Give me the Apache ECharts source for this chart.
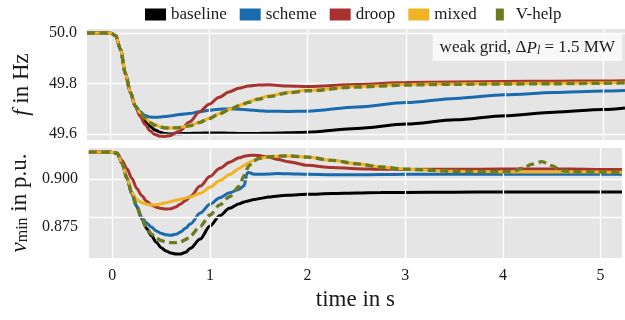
<!DOCTYPE html>
<html>
<head>
<meta charset="utf-8">
<script src="https://cdn.jsdelivr.net/npm/echarts@6/dist/echarts.min.js"></script>
<style>
html,body{margin:0;padding:0;background:#fff;}
#chart{width:625px;height:320px;}
</style>
</head>
<body>
<div id="chart"></div>
<script>
// ---- data ----
const seriesNames = ['baseline', 'scheme', 'droop', 'mixed', 'V-help'];

// frequency panel
const tF = [-0.24, 0, 0.05, 0.1, 0.15, 0.2, 0.25, 0.3, 0.35, 0.4, 0.45, 0.5, 0.55, 0.6, 0.7, 0.8, 0.9, 1.0, 1.1, 1.2, 1.3, 1.4, 1.5, 1.6, 1.8, 2.0, 2.5, 3.0, 3.5, 4.0, 4.5, 5.0, 5.22];
const fBaseline = [50.0, 50.0, 49.99, 49.935, 49.84, 49.765, 49.71, 49.676, 49.65, 49.63, 49.616, 49.607, 49.602, 49.600, 49.601, 49.602, 49.603, 49.604, 49.604, 49.603, 49.602, 49.602, 49.602, 49.603, 49.605, 49.607, 49.622, 49.639, 49.656, 49.672, 49.686, 49.697, 49.703];
const fScheme = [50.0, 50.0, 49.99, 49.935, 49.84, 49.765, 49.712, 49.688, 49.673, 49.667, 49.666, 49.667, 49.669, 49.671, 49.677, 49.681, 49.688, 49.694, 49.698, 49.699, 49.698, 49.695, 49.692, 49.690, 49.689, 49.690, 49.707, 49.725, 49.741, 49.755, 49.764, 49.770, 49.772];
const fDroop = [50.0, 50.0, 49.99, 49.935, 49.84, 49.765, 49.708, 49.670, 49.638, 49.612, 49.598, 49.591, 49.590, 49.593, 49.612, 49.647, 49.687, 49.718, 49.745, 49.766, 49.781, 49.790, 49.794, 49.795, 49.790, 49.788, 49.796, 49.804, 49.806, 49.808, 49.809, 49.810, 49.811];
const fMixed = [50.0, 50.0, 49.99, 49.935, 49.84, 49.765, 49.71, 49.683, 49.663, 49.646, 49.636, 49.629, 49.625, 49.624, 49.626, 49.633, 49.646, 49.662, 49.680, 49.697, 49.713, 49.727, 49.740, 49.750, 49.765, 49.773, 49.788, 49.796, 49.799, 49.800, 49.801, 49.803, 49.805];
const fVhelp = [50.0, 50.0, 49.99, 49.935, 49.84, 49.765, 49.71, 49.683, 49.662, 49.645, 49.635, 49.628, 49.624, 49.623, 49.625, 49.632, 49.645, 49.661, 49.679, 49.695, 49.711, 49.725, 49.738, 49.748, 49.763, 49.771, 49.786, 49.794, 49.797, 49.798, 49.799, 49.801, 49.803];

// voltage panel
const tV = [-0.24, 0, 0.05, 0.1, 0.15, 0.2, 0.25, 0.3, 0.35, 0.4, 0.45, 0.5, 0.55, 0.6, 0.65, 0.7, 0.75, 0.8, 0.9, 1.0, 1.1, 1.2, 1.3, 1.35, 1.38, 1.4, 1.45, 1.5, 1.6, 1.7, 1.8, 2.0, 2.25, 2.5, 2.75, 3.0, 3.5, 4.0, 4.1, 4.2, 4.3, 4.4, 4.5, 4.6, 4.7, 5.0, 5.22];
const vBaseline = [0.9143, 0.9143, 0.9136, 0.9084, 0.9005, 0.8926, 0.8856, 0.8794, 0.8741, 0.8703, 0.8668, 0.8639, 0.8622, 0.8611, 0.8606, 0.8606, 0.8615, 0.8636, 0.8685, 0.8754, 0.8808, 0.8847, 0.8871, 0.8880, 0.8884, 0.8887, 0.8893, 0.8898, 0.8906, 0.8912, 0.8916, 0.8921, 0.8925, 0.8928, 0.8930, 0.8931, 0.8932, 0.8933, 0.8933, 0.8933, 0.8933, 0.8933, 0.8933, 0.8933, 0.8933, 0.8933, 0.8933];
const vScheme = [0.9143, 0.9143, 0.9136, 0.9084, 0.9005, 0.8926, 0.8858, 0.8800, 0.8770, 0.8748, 0.8728, 0.8715, 0.8707, 0.8705, 0.8710, 0.8722, 0.8742, 0.8765, 0.8822, 0.8868, 0.8903, 0.8929, 0.8948, 0.8966, 0.9033, 0.9036, 0.9027, 0.9026, 0.9028, 0.9030, 0.9029, 0.9026, 0.9024, 0.9024, 0.9025, 0.9026, 0.9026, 0.9026, 0.9026, 0.9026, 0.9026, 0.9026, 0.9026, 0.9026, 0.9026, 0.9026, 0.9026];
const vDroop = [0.9143, 0.9143, 0.9139, 0.9098, 0.9055, 0.9005, 0.8952, 0.8915, 0.8884, 0.8865, 0.8853, 0.8846, 0.8843, 0.8845, 0.8854, 0.8870, 0.8888, 0.8910, 0.8964, 0.9015, 0.9058, 0.9090, 0.9113, 0.9121, 0.9124, 0.9126, 0.9127, 0.9125, 0.9116, 0.9104, 0.9093, 0.9074, 0.9062, 0.9056, 0.9053, 0.9052, 0.9053, 0.9054, 0.9054, 0.9054, 0.9054, 0.9054, 0.9054, 0.9054, 0.9054, 0.9052, 0.9051];
const vMixed = [0.9143, 0.9143, 0.9136, 0.9084, 0.9005, 0.8930, 0.8893, 0.8877, 0.8868, 0.8864, 0.8866, 0.8871, 0.8876, 0.8883, 0.8889, 0.8895, 0.8901, 0.8908, 0.8926, 0.8958, 0.8993, 0.9025, 0.9057, 0.9073, 0.9082, 0.9088, 0.9101, 0.9110, 0.9118, 0.9122, 0.9123, 0.9117, 0.9100, 0.9082, 0.9065, 0.9053, 0.9042, 0.9039, 0.9039, 0.9039, 0.9039, 0.9039, 0.9039, 0.9039, 0.9039, 0.9038, 0.9037];
const vVhelp = [0.9143, 0.9143, 0.9136, 0.9084, 0.9005, 0.8926, 0.8856, 0.8795, 0.8745, 0.8712, 0.8690, 0.8677, 0.8670, 0.8666, 0.8666, 0.8670, 0.8682, 0.8703, 0.8752, 0.8812, 0.8865, 0.8908, 0.8962, 0.9020, 0.9055, 0.9072, 0.9098, 0.9110, 0.9118, 0.9122, 0.9123, 0.9117, 0.9100, 0.9082, 0.9065, 0.9053, 0.9042, 0.9040, 0.9041, 0.9058, 0.9080, 0.9093, 0.9072, 0.9046, 0.9040, 0.9038, 0.9037];

// tick labels / grid lines
const tTicks = [0, 1, 2, 3, 4, 5];
const fTicks = [49.6, 49.8, 50.0];
const vTicks = [0.875, 0.900];

// ---- styling ----
const FONT = 'Liberation Serif';
const colors = ['#000000', '#1a6aae', '#a8322d', '#f0b323', '#6e7b1c'];
const TXT = '#1a1a1a';

const zip = (t, y) => t.map((x, i) => [x, y[i]]);
const near = (v, list) => list.some(k => Math.abs(v - k) < 1e-7);

const fData = [fBaseline, fScheme, fDroop, fMixed, fVhelp];
const vData = [vBaseline, vScheme, vDroop, vMixed, vVhelp];

function lineSeries(name, idx, data, axisIdx) {
  const dashed = name === 'V-help';
  return {
    name: name,
    type: 'line',
    xAxisIndex: axisIdx,
    yAxisIndex: axisIdx,
    data: data,
    symbol: 'none',
    smooth: 0.3,
    smoothMonotone: 'x',
    z: 3 + idx,
    color: colors[idx],
    lineStyle: {
      color: colors[idx],
      width: dashed ? 3.4 : 3,
      type: dashed ? [8, 4.5] : 'solid',
      cap: 'butt'
    },
    emphasis: { disabled: true }
  };
}

function gridSeries(axisIdx, yTicks) {
  return {
    type: 'line',
    xAxisIndex: axisIdx,
    yAxisIndex: axisIdx,
    data: [],
    z: 1,
    silent: true,
    markLine: {
      silent: true,
      symbol: 'none',
      animation: false,
      label: { show: false },
      lineStyle: { color: '#ffffff', width: 1.3, type: 'solid' },
      emphasis: { disabled: true },
      data: yTicks.map(v => ({ yAxis: v })).concat(tTicks.map(v => ({ xAxis: v })))
    }
  };
}

const series = [gridSeries(0, fTicks), gridSeries(1, vTicks)];
seriesNames.forEach((n, i) => series.push(lineSeries(n, i, zip(tF, fData[i]), 0)));
seriesNames.forEach((n, i) => series.push(lineSeries(n, i, zip(tV, vData[i]), 1)));

const legendData = seriesNames.map((n, i) => {
  if (n === 'V-help') {
    return { name: n, icon: 'path://M0,0h0.01v0.01h-0.01z M6,0h8v12h-8z M20.99,11.99h0.01v0.01h-0.01z' };
  }
  return { name: n, icon: 'rect' };
});

const xCommon = {
  type: 'value',
  min: -0.24,
  max: 5.22,
  interval: 0.02,
  axisLine: { show: false },
  axisTick: { show: false },
  splitLine: { show: false }
};

const chart = echarts.init(document.getElementById('chart'), null, { renderer: 'canvas' });
chart.setOption({
  animation: false,
  backgroundColor: '#ffffff',
  textStyle: { fontFamily: FONT, color: TXT },
  legend: {
    data: legendData,
    left: 145,
    top: 6,
    padding: 0,
    itemWidth: 21,
    itemHeight: 12,
    itemGap: 13,
    selectedMode: false,
    textStyle: { fontFamily: FONT, fontSize: 17, color: TXT }
  },
  grid: [
    { left: 87, right: 0, top: 29, height: 111, show: true, backgroundColor: '#e5e5e5', borderWidth: 0 },
    { left: 87, right: 0, top: 148, height: 110, show: true, backgroundColor: '#e5e5e5', borderWidth: 0 }
  ],
  xAxis: [
    Object.assign({}, xCommon, { gridIndex: 0, axisLabel: { show: false } }),
    Object.assign({}, xCommon, {
      gridIndex: 1,
      name: 'time in s',
      nameLocation: 'middle',
      nameGap: 30,
      nameTextStyle: { fontFamily: FONT, fontSize: 23, color: TXT },
      axisLabel: {
        margin: 10,
        fontFamily: FONT,
        fontSize: 16,
        color: TXT,
        formatter: v => near(v, tTicks) ? String(Math.round(v)) : ''
      }
    })
  ],
  yAxis: [
    {
      type: 'value',
      gridIndex: 0,
      min: 49.576,
      max: 50.016,
      interval: 0.004,
      axisLine: { show: false },
      axisTick: { show: false },
      splitLine: { show: false },
      axisLabel: {
        margin: 10,
        fontFamily: FONT,
        fontSize: 16,
        color: TXT,
        formatter: v => near(v, fTicks) ? v.toFixed(1) : ''
      },
      name: '{i|f} in Hz',
      nameLocation: 'middle',
      nameGap: 54,
      nameRotate: 90,
      nameTextStyle: {
        fontFamily: FONT, fontSize: 23, color: TXT,
        rich: { i: { fontFamily: FONT, fontSize: 23, fontStyle: 'italic', color: TXT } }
      }
    },
    {
      type: 'value',
      gridIndex: 1,
      min: 0.8585,
      max: 0.9165,
      interval: 0.0005,
      axisLine: { show: false },
      axisTick: { show: false },
      splitLine: { show: false },
      axisLabel: {
        margin: 11,
        fontFamily: FONT,
        fontSize: 16,
        color: TXT,
        formatter: v => near(v, vTicks) ? v.toFixed(3) : ''
      },
      name: '{i|v}{s|min}{n| in p.u.}',
      nameLocation: 'middle',
      nameGap: 54,
      nameRotate: 90,
      nameTextStyle: {
        fontFamily: FONT, fontSize: 23, color: TXT,
        rich: {
          i: { fontFamily: FONT, fontSize: 23, fontStyle: 'italic', color: TXT, lineHeight: 28, verticalAlign: 'bottom' },
          s: { fontFamily: FONT, fontSize: 16, color: TXT, lineHeight: 11, verticalAlign: 'bottom' },
          n: { fontFamily: FONT, fontSize: 23, color: TXT, lineHeight: 28, verticalAlign: 'bottom' }
        }
      }
    }
  ],
  graphic: [
    {
      type: 'text',
      right: 3,
      top: 33,
      z: 100,
      style: {
        text: 'weak grid, Δ{i|P}{s|l} = 1.5 MW',
        font: '17px "Liberation Serif"',
        fill: TXT,
        backgroundColor: 'rgba(255,255,255,0.72)',
        padding: [5, 7, 4, 7],
        rich: {
          i: { fontFamily: FONT, fontSize: 17, fontStyle: 'italic', fill: TXT, lineHeight: 19, verticalAlign: 'bottom' },
          s: { fontFamily: FONT, fontSize: 12, fontStyle: 'italic', fill: TXT, lineHeight: 10, verticalAlign: 'bottom' }
        }
      }
    }
  ],
  series: series
});
</script>
</body>
</html>
